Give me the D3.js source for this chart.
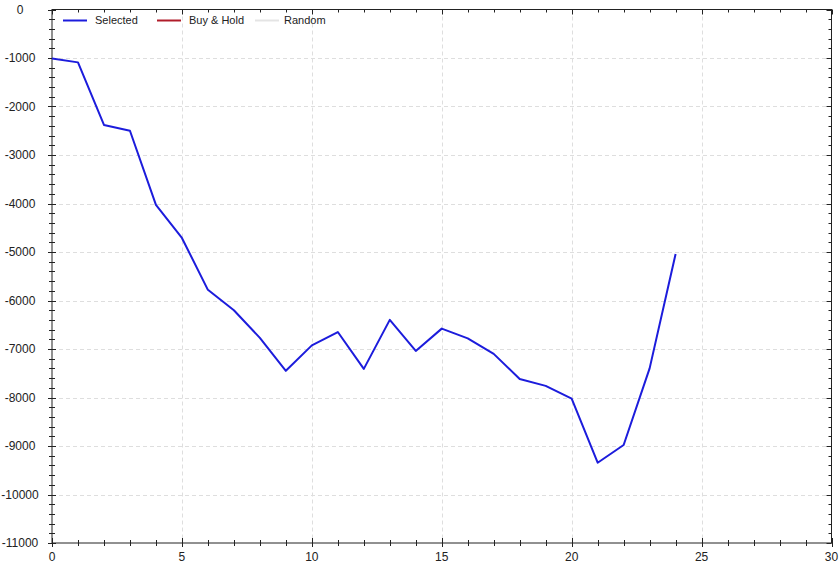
<!DOCTYPE html>
<html><head><meta charset="utf-8">
<script src="https://cdn.jsdelivr.net/npm/d3@7"></script>
<style>body{margin:0;background:#fff}svg{display:block}text{font-family:"Liberation Sans",Arial,sans-serif}</style>
</head><body><svg id="c" width="839" height="564"></svg>
<script>
const xValues = [0,1,2,3,4,5,6,7,8,9,10,11,12,13,14,15,16,17,18,19,20,21,22,23,24];
const selected = [-1010,-1090,-2380,-2500,-4030,-4710,-5780,-6200,-6770,-7450,-6925,-6650,-7410,-6400,-7040,-6580,-6780,-7100,-7620,-7760,-8025,-9345,-8980,-7400,-5040];
const xTicks = [0,5,10,15,20,25,30];
const yTicks = [0,-1000,-2000,-3000,-4000,-5000,-6000,-7000,-8000,-9000,-10000,-11000];
const legendNames = ["Selected","Buy & Hold","Random"];
const legendColors = ["#1c1cdc","#b01c2a","#e4e4e4"];

const svg = d3.select("#c");
const L=52, R=831.5, T=9.5, B=543;
const x = d3.scaleLinear().domain([0,30]).range([L,R]);
const y = d3.scaleLinear().domain([-11000,0]).range([B,T]);

// grid
const g = svg.append("g").attr("stroke","#dedede").attr("stroke-dasharray","4,3").attr("stroke-width",1);
yTicks.filter(v=>v!==0 && v!==-11000).forEach(v=>g.append("line").attr("x1",L).attr("x2",R).attr("y1",Math.round(y(v))+0.5).attr("y2",Math.round(y(v))+0.5));
xTicks.filter(v=>v!==0 && v!==30).forEach(v=>g.append("line").attr("y1",T).attr("y2",B).attr("x1",Math.round(x(v))+0.5).attr("x2",Math.round(x(v))+0.5));

// frame
svg.append("rect").attr("x",L).attr("y",T).attr("width",R-L).attr("height",B-T).attr("fill","none").attr("stroke","#222").attr("stroke-width",1);

// ticks
const tk = svg.append("g").attr("stroke","#222").attr("stroke-width",1);
const yMinor = d3.range(-11000,1,200);
yMinor.forEach(v=>{
  const major = v%1000===0;
  const yy = Math.round(y(v))+0.5;
  tk.append("line").attr("x1",L-(major?4:3)).attr("x2",L+(major?4:3)).attr("y1",yy).attr("y2",yy);
  tk.append("line").attr("x1",R).attr("x2",R-(major?5:3)).attr("y1",yy).attr("y2",yy);
});
d3.range(0,31,1).forEach(v=>{
  const major = v%5===0;
  const xx = Math.round(x(v))+0.5;
  tk.append("line").attr("y1",B-(major?5:3)).attr("y2",B+(major?4:3)).attr("x1",xx).attr("x2",xx);
  tk.append("line").attr("y1",T).attr("y2",T+(major?5:3)).attr("x1",xx).attr("x2",xx);
});

// labels
svg.append("g").selectAll("text").data(yTicks).join("text")
  .attr("x",20).attr("y",d=>y(d)+4).attr("text-anchor","middle").attr("font-size",12).attr("fill","#222").text(d=>d);
svg.append("g").selectAll("text").data(xTicks).join("text")
  .attr("x",d=>x(d)).attr("y",B+18).attr("text-anchor","middle").attr("font-size",12).attr("fill","#222").text(d=>d);

// line
const line = d3.line().x((d,i)=>x(xValues[i])).y(d=>y(d));
svg.append("path").datum(selected).attr("d",line).attr("fill","none").attr("stroke",legendColors[0]).attr("stroke-width",2).attr("stroke-linejoin","round");

// legend
const lx=[63,157,255], tx=[95,189,284];
legendNames.forEach((n,i)=>{
  svg.append("line").attr("x1",lx[i]).attr("x2",lx[i]+24).attr("y1",20.5).attr("y2",20.5).attr("stroke",legendColors[i]).attr("stroke-width",2);
  svg.append("text").attr("x",tx[i]).attr("y",24).attr("font-size",11).attr("fill","#222").text(n);
});
</script></body></html>
